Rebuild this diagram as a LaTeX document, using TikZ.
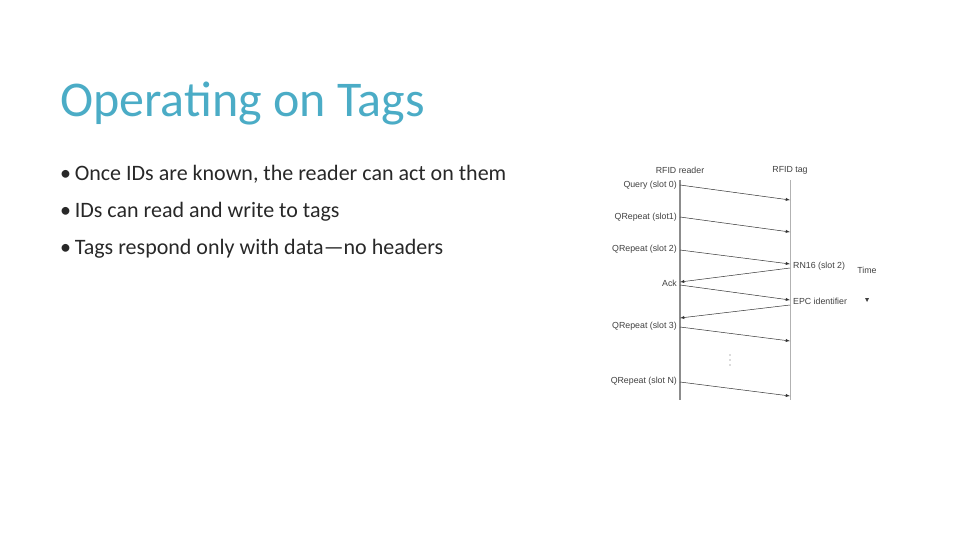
\documentclass[tikz,border=0pt]{standalone}
\usepackage{fontspec}
\setmainfont{Carlito}
\newfontfamily\diag{Liberation Sans}
\definecolor{ttl}{RGB}{75,172,198}
\definecolor{txt}{RGB}{40,40,40}
\begin{document}
\begin{tikzpicture}[x=1pt,y=-1pt,
  lbl/.style={font=\diag\fontsize{8.8}{10}\selectfont,text=black!75,inner sep=1pt},
  msg/.style={-latex,black!80,line width=0.5pt},
  life/.style={black!45,line width=1.6pt},
  bul/.style={anchor=west,font=\fontsize{22}{26}\selectfont,text=txt,inner sep=0}]
\useasboundingbox (0,0) rectangle (960,540);
\node[anchor=west,font=\fontsize{50}{56}\selectfont,text=ttl,inner sep=0] (title) at (60,104) {Operating on Tags};
\node[bul] (b1) at (60,174) {\textbullet\,Once IDs are known, the reader can act on them};
\node[bul] (b2) at (60,212) {\textbullet\,IDs can read and write to tags};
\node[bul] (b3) at (60,249) {\textbullet\,Tags respond only with data---no headers};
% lifelines
\coordinate (rt) at (680,180); \coordinate (rb) at (680,400);
\coordinate (tt) at (790,180); \coordinate (tb) at (790,400);
\draw[life] (rt) -- (rb);
\draw[black!30,line width=0.8pt] (tt) -- (tb);
\node[lbl] (rh) at (680,170) {RFID reader};
\node[lbl] (th) at (790,170) {RFID tag};
% points
\coordinate (r1) at (680,185); \coordinate (t1) at (790,200);
\coordinate (r2) at (680,217); \coordinate (t2) at (790,232);
\coordinate (r3) at (680,250); \coordinate (t3) at (790,264);
\coordinate (t4) at (790,268); \coordinate (r4) at (680,282);
\coordinate (r5) at (680,285); \coordinate (t5) at (790,300);
\coordinate (t6) at (790,305); \coordinate (r6) at (680,318);
\coordinate (r7) at (680,327); \coordinate (t7) at (790,341);
\coordinate (r8) at (680,382); \coordinate (t8) at (790,396);
\draw[msg] (r1) -- (t1);
\draw[msg] (r2) -- (t2);
\draw[msg] (r3) -- (t3);
\draw[msg] (t4) -- (r4);
\draw[msg] (r5) -- (t5);
\draw[msg] (t6) -- (r6);
\draw[msg] (r7) -- (t7);
\draw[msg] (r8) -- (t8);
\node[lbl,anchor=east] (l1) at (678,185) {Query (slot 0)};
\node[lbl,anchor=east] (l2) at (678,217) {QRepeat (slot1)};
\node[lbl,anchor=east] (l3) at (678,249) {QRepeat (slot 2)};
\node[lbl,anchor=east] (l4) at (678,283) {Ack};
\node[lbl,anchor=east] (l5) at (678,326) {QRepeat (slot 3)};
\node[lbl,anchor=east] (l6) at (678,381) {QRepeat (slot N)};
\node[lbl,anchor=west] (l7) at (792,266) {RN16 (slot 2)};
\node[lbl,anchor=west] (l8) at (792,301) {EPC identifier};
\node[lbl] (time) at (867,270) {Time};
\fill[black!75] (865,298) -- (869,298) -- (867,302) -- cycle;
\foreach \yy in {355,360,365} \fill[black!60] (730,\yy) circle (0.6);
\end{tikzpicture}
\end{document}
